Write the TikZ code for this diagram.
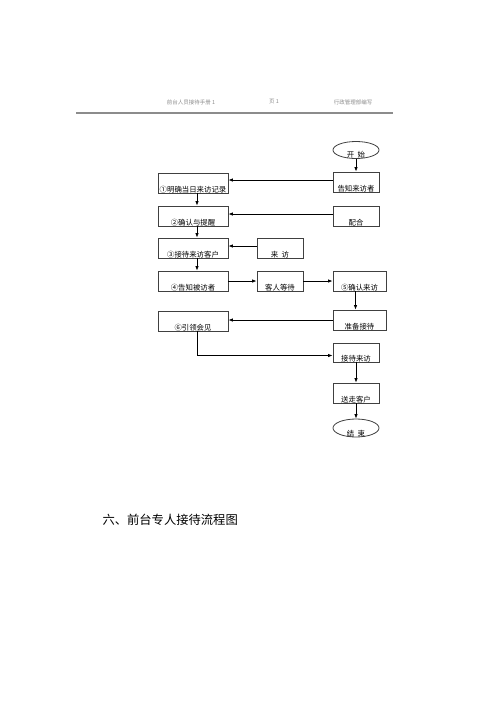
\documentclass[tikz,border=0pt]{standalone}
\usepackage{fontspec}
\setmainfont{Noto Sans CJK SC}
\usetikzlibrary{arrows.meta,shapes.geometric}

\definecolor{linie}{rgb}{0.25,0.25,0.25}
\definecolor{kopf}{rgb}{0.55,0.55,0.55}

\tikzset{
    stepbox/.style={draw=linie, line width=0.8pt, rectangle, minimum height=20pt, inner sep=0pt},
    endoval/.style={draw=linie, line width=0.8pt, ellipse, minimum width=46pt, minimum height=17pt, inner sep=0pt},
    lab/.style={anchor=south, inner sep=0.5pt, font=\fontsize{7.4}{8}\selectfont},
    arr/.style={-{Latex[length=4.5pt,width=3.5pt]}, line width=0.8pt, black}
}

\begin{document}
\begin{tikzpicture}[x=1pt,y=-1pt] %1
            \useasboundingbox (0,0) rectangle (500,707);

            % kopfzeile
            \node[kopf, font=\fontsize{5.5}{6}\selectfont] (kl) at (191,102) {前台人员接待手册 1};
            \node[kopf, font=\fontsize{5.5}{6}\selectfont] (km) at (274,102) {页 1};
            \node[kopf, font=\fontsize{5.5}{6}\selectfont] (kr) at (353,102) {行政管理部编写};
            \draw[kopf, line width=1.4pt] (76,113) -- (393,113);

            \node[endoval, label={[lab]south:开\ \ 始}] (start) at (356,150) {};
            \node[stepbox, minimum width=46pt, label={[lab]south:告知来访者}] (tell) at (356,182) {};
            \node[stepbox, minimum width=70pt, label={[lab]south:①明确当日来访记录}] (rec) at (193,183) {};
            \node[stepbox, minimum width=70pt, label={[lab]south:②确认与提醒}] (confirm) at (193,216) {};
            \node[stepbox, minimum width=46pt, label={[lab]south:配合}] (coop) at (356,216) {};
            \node[stepbox, minimum width=70pt, label={[lab]south:③接待来访客户}] (recv) at (193,248) {};
            \node[stepbox, minimum width=46pt, label={[lab]south:来\ \ 访}] (visit) at (280,248) {};
            \node[stepbox, minimum width=70pt, label={[lab]south:④告知被访者}] (inform) at (193,281) {};
            \node[stepbox, minimum width=46pt, label={[lab]south:客人等待}] (wait) at (280,281) {};
            \node[stepbox, minimum width=53pt, label={[lab]south:⑤确认来访}] (check) at (359.5,281) {};
            \node[stepbox, minimum width=53pt, label={[lab]south:准备接待}] (prep) at (359.5,320) {};
            \node[stepbox, minimum width=70pt, label={[lab]south:⑥引领会见}] (lead) at (193,321) {};
            \node[stepbox, minimum width=46pt, minimum height=19pt, label={[lab]south:接待来访}] (meet) at (356,352.5) {};
            \node[stepbox, minimum width=46pt, label={[lab]south:送走客户}] (send) at (356,393) {};
            \node[endoval, minimum height=18pt, label={[lab]south:结\ \ 束}] (end) at (356,428) {};

            \draw[arr] (start) -- (tell);
            \draw[arr] ([yshift=2pt]tell.west) -- ([yshift=2pt]tell.west -| rec.east);
            \draw[arr] ([xshift=4pt]rec.south) -- ([xshift=4pt]confirm.north);
            \draw[arr] ([yshift=2pt]coop.west) -- ([yshift=2pt]coop.west -| confirm.east);
            \draw[arr] ([xshift=4pt]confirm.south) -- ([xshift=4pt]recv.north);
            \draw[arr] ([yshift=2pt]visit.west) -- ([yshift=2pt]visit.west -| recv.east);
            \draw[arr] ([xshift=4pt]recv.south) -- ([xshift=4pt]inform.north);
            \draw[arr] (inform) -- (wait);
            \draw[arr] (wait) -- (check);
            \draw[arr] ([xshift=-4pt]check.south) -- ([xshift=-4pt]prep.north);
            \draw[arr] (prep.west) -- (prep.west -| lead.east);
            \draw[arr] ([xshift=4pt]lead.south) |- ([yshift=-3pt]meet.west);
            \draw[arr] (meet) -- (send);
            \draw[arr] (send) -- (end);

            \node[anchor=west, font=\fontsize{12.3}{14}\selectfont] (titel) at (99,520) {六、前台专人接待流程图};
        \end{tikzpicture}
\end{document}
